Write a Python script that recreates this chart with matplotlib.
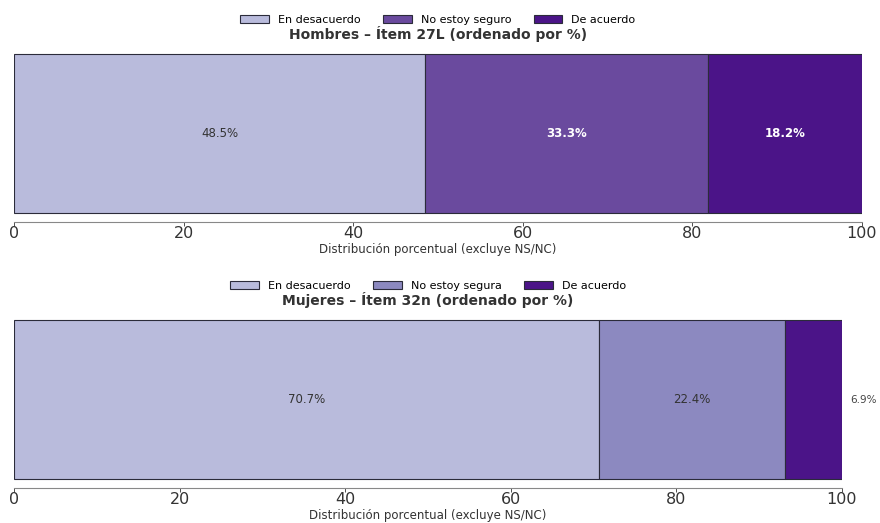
import matplotlib.pyplot as plt

# datos (porcentajes, excluye NS/NC)
cats_h = ["En desacuerdo", "No estoy seguro", "De acuerdo"]
vals_h = [48.5, 33.3, 18.2]
cols_h = ["#b9bbdc", "#6a4a9e", "#4b1488"]

cats_m = ["En desacuerdo", "No estoy segura", "De acuerdo"]
vals_m = [70.7, 22.4, 6.9]
cols_m = ["#b9bbdc", "#8c89c0", "#4b1488"]

titulos = ["Hombres – Ítem 27L (ordenado por %)", "Mujeres – Ítem 32n (ordenado por %)"]
xlabel = "Distribución porcentual (excluye NS/NC)"

fig = plt.figure(figsize=(8.8, 5.23), dpi=100)
ax1 = fig.add_axes([0.0159, 0.5755, 0.9636, 0.3384])
ax2 = fig.add_axes([0.0159, 0.0669, 0.9409, 0.3384])


def dibujar(ax, cats, vals, cols, titulo, txt_cols, outside):
    left = 0
    handles = []
    for i, (c, v, col) in enumerate(zip(cats, vals, cols)):
        b = ax.barh(0, v, left=left, height=0.9, color=col, edgecolor="#2b2b3a",
                    linewidth=0.8, label=c, zorder=2)
        handles.append(b)
        if i in outside:
            ax.text(left + v + 1.0, 0, f"{v}%", ha="left", va="center",
                    fontsize=7.5, color="#444444")
        else:
            w = "bold" if txt_cols[i] == "white" else "normal"
            ax.text(left + v / 2, 0, f"{v}%", ha="center", va="center",
                    fontsize=8.5, color=txt_cols[i], fontweight=w, zorder=3)
        left += v
    ax.set_xlim(0, 100)
    ax.set_ylim(-0.5, 0.5)
    ax.set_yticks([])
    ax.set_xticks([0, 20, 40, 60, 80, 100])
    ax.tick_params(axis="x", labelsize=11.5, colors="#333333", length=3,
                   width=0.6, pad=0)
    ax.xaxis.grid(True, color="#ffffff", alpha=0.25, linewidth=0.8, zorder=2.5)
    for s in ["top", "right", "left"]:
        ax.spines[s].set_visible(False)
    ax.spines["bottom"].set_color("#888888")
    ax.set_xlabel(xlabel, fontsize=8.5, color="#333333", labelpad=1)
    ax.set_title(titulo, fontsize=10, fontweight="bold", color="#333333", pad=4)
    ax.legend(handles=handles, loc="lower center", bbox_to_anchor=(0.5, 1.09),
              ncol=3, frameon=False, fontsize=8, handlelength=2.6,
              handleheight=0.7, columnspacing=2.0, borderaxespad=0)


dibujar(ax1, cats_h, vals_h, cols_h, titulos[0],
        ["#333333", "white", "white"], [])
dibujar(ax2, cats_m, vals_m, cols_m, titulos[1],
        ["#333333", "#333333", "#333333"], [2])

fig.savefig("out.png", dpi=100)
